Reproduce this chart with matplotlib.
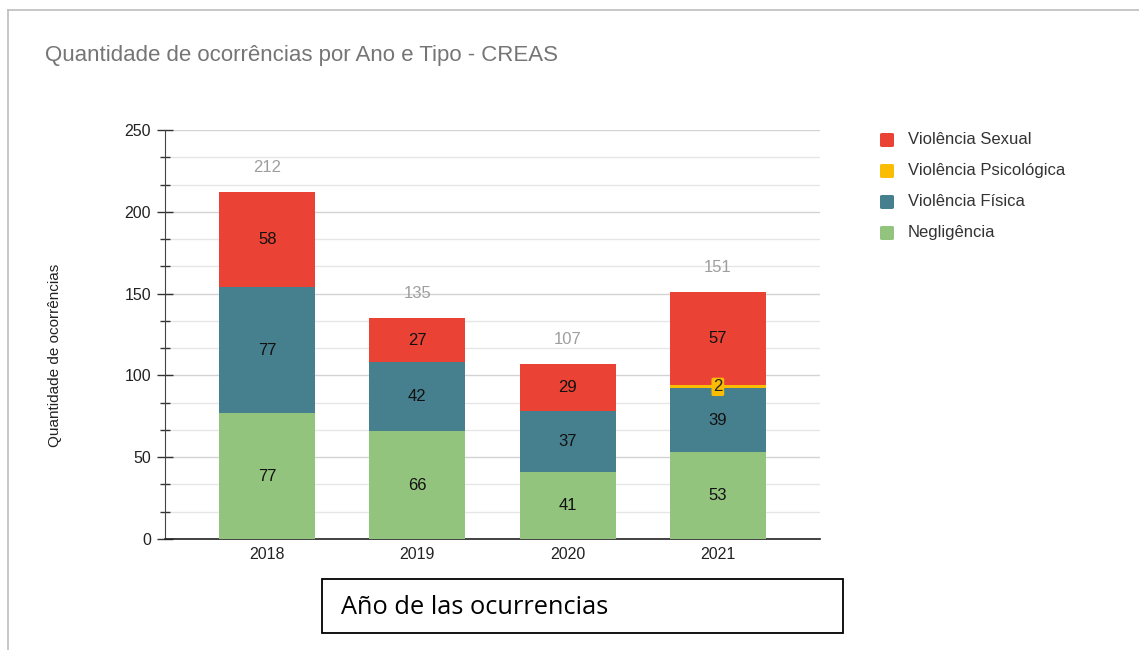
import matplotlib
matplotlib.use("Agg")
import matplotlib.pyplot as plt
from matplotlib.patches import Rectangle, FancyBboxPatch
from matplotlib.lines import Line2D
import numpy as np

plt.rcParams['font.family'] = ['Liberation Sans', 'DejaVu Sans']

anos = ['2018', '2019', '2020', '2021']
negligencia = [77, 66, 41, 53]
fisica = [77, 42, 37, 39]
psicologica = [0, 0, 0, 2]
sexual = [58, 27, 29, 57]

series = [
    ('Negligência', negligencia, '#93c47d'),
    ('Violência Física', fisica, '#467f8d'),
    ('Violência Psicológica', psicologica, '#fbbc04'),
    ('Violência Sexual', sexual, '#ea4335'),
]

W, H = 1139, 650
fig = plt.figure(figsize=(W / 100, H / 100), dpi=100)

# page frame
fig.add_artist(Line2D([8 / W, 8 / W], [0, 1 - 10 / H], color='#bdbdbd', lw=1.2))
fig.add_artist(Line2D([8 / W, 1], [1 - 10 / H, 1 - 10 / H], color='#bdbdbd', lw=1.2))

ax = fig.add_axes([165 / W, 1 - 539 / H, (820 - 165) / W, (539 - 130) / H])

x = np.arange(len(anos))
bottom = np.zeros(len(anos))
for name, vals, color in series:
    vals = np.array(vals)
    ax.bar(x, vals, 0.64, bottom=bottom, color=color, zorder=3, label=name)
    for xi, v, bt in zip(x, vals, bottom):
        if v <= 0:
            continue
        if v < 5:
            ax.text(xi, bt + v / 2, str(v), ha='center', va='center', fontsize=12,
                    color='#222222', zorder=5,
                    bbox=dict(boxstyle='round,pad=0.1', fc=color, ec='none'))
        else:
            ax.text(xi, bt + v / 2, str(v), ha='center', va='center', fontsize=12,
                    color='#111111', zorder=5)
    bottom = bottom + vals

for xi, tot in zip(x, bottom):
    ax.text(xi, tot + 15, str(int(tot)), ha='center', va='center', fontsize=12,
            color='#9e9e9e', zorder=5)

ax.set_xlim(-0.68, 3.68)
ax.set_ylim(0, 250)
ax.set_xticks(x)
ax.set_xticklabels(anos)
ax.set_yticks(np.arange(0, 251, 50))
ax.set_yticks(np.arange(0, 251, 50 / 3), minor=True)
ax.grid(axis='y', which='major', color='#d3d3d3', lw=1, zorder=0)
ax.grid(axis='y', which='minor', color='#e6e6e6', lw=1, zorder=0)
ax.tick_params(axis='y', which='major', direction='inout', length=12, width=1,
               color='#333333', labelsize=11.5, labelcolor='#222222', pad=4)
ax.tick_params(axis='y', which='minor', direction='inout', length=7, width=1,
               color='#333333')
ax.tick_params(axis='x', length=0, labelsize=11.5, labelcolor='#222222', pad=6)
for s in ['top', 'right']:
    ax.spines[s].set_visible(False)
ax.spines['left'].set_color('#444444')
ax.spines['bottom'].set_color('#222222')
ax.spines['bottom'].set_linewidth(1.2)

fig.text(55 / W, 1 - 355 / H, 'Quantidade de ocorrências', rotation=90,
         ha='center', va='center', fontsize=11, color='#222222')

fig.text(45 / W, 1 - 56 / H, 'Quantidade de ocorrências por Ano e Tipo - CREAS',
         ha='left', va='center', fontsize=16, color='#757575')

# legend
leg_order = ['Violência Sexual', 'Violência Psicológica', 'Violência Física', 'Negligência']
colors = {n: c for n, _, c in series}
for i, name in enumerate(leg_order):
    yc = 140 + 31 * i
    fig.add_artist(FancyBboxPatch((880 / W, 1 - (yc + 7) / H), 14 / W, 14 / H,
                                  boxstyle='round,pad=0,rounding_size=0.002',
                                  fc=colors[name], ec='none', transform=fig.transFigure))
    fig.text(908 / W, 1 - yc / H, name, ha='left', va='center', fontsize=12,
             color='#333333')

# x-axis caption box
fig.add_artist(Rectangle((322 / W, 1 - 633 / H), (843 - 322) / W, (633 - 579) / H,
                         fill=False, ec='black', lw=1.3, transform=fig.transFigure))
fig.text(341 / W, 1 - 607 / H, 'Año de las ocurrencias', ha='left', va='center',
         fontsize=18.3, color='black', family=['Open Sans', 'DejaVu Sans'])

fig.savefig('out.png', dpi=100)
